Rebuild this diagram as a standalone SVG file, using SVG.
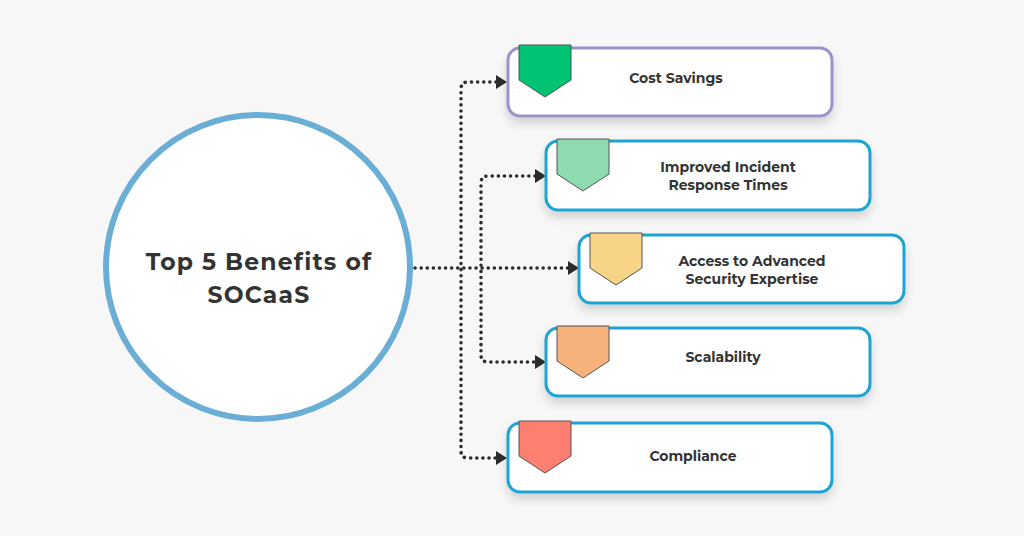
<svg xmlns="http://www.w3.org/2000/svg" width="1024" height="536" viewBox="0 0 1024 536">
<defs>
<filter id="sh" x="-10%" y="-20%" width="120%" height="160%"><feDropShadow dx="0" dy="6" stdDeviation="5" flood-color="#000" flood-opacity="0.15"/></filter>
</defs>
<style>
.box{fill:#fff;stroke:#1ea4d2;stroke-width:3;filter:url(#sh)}
.lbl{font-family:Montserrat,"Open Sans","Liberation Sans",sans-serif;font-weight:bold;font-size:14px;fill:#333;text-anchor:middle}
.con{fill:none;stroke:#2b2b2b;stroke-width:3.5;stroke-dasharray:0.1 6;stroke-linecap:round}
.bd{stroke:#555;stroke-width:1}
</style>
<rect width="1024" height="536" fill="#f7f7f7"/>
<g id="center">
<circle cx="258" cy="267" r="152" fill="#fff" stroke="#6aaed6" stroke-width="6"/>
<text class="lbl" x="259" y="270" style="font-size:23.5px;letter-spacing:1.2px">Top 5 Benefits of</text>
<text class="lbl" x="259" y="303" style="font-size:23.5px;letter-spacing:1.2px">SOCaaS</text>
</g>
<g id="connectors">
<path class="con" d="M415,268H568"/>
<path class="con" d="M496,82H468Q461,82 461,89V451Q461,458 468,458H496"/>
<path class="con" d="M535,176H488Q481,176 481,183V355Q481,362 488,362H535"/>
<path d="M496,75L507,82L496,89z M535,169L546,176L535,183z M568,261L579,268L568,275z M535,355L546,362L535,369z M496,451L507,458L496,465z" fill="#2b2b2b"/>
</g>
<g id="n1"><rect class="box" x="508" y="48" width="324" height="68" rx="12" style="stroke:#9b93c9"/><path class="bd" d="M519,45H571V80L545,97L519,80z" fill="#00c373"/><text class="lbl" x="676" y="83">Cost Savings</text></g>
<g id="n2"><rect class="box" x="546" y="141" width="324" height="69" rx="12"/><path class="bd" d="M557,139H609V174L583,191L557,174z" fill="#8ddbaf"/><text class="lbl" x="728" y="172">Improved Incident</text><text class="lbl" x="728" y="190">Response Times</text></g>
<g id="n3"><rect class="box" x="579" y="235" width="325" height="68" rx="12"/><path class="bd" d="M590,233H642V268L616,285L590,268z" fill="#f7d487"/><text class="lbl" x="752" y="266">Access to Advanced</text><text class="lbl" x="752" y="284">Security Expertise</text></g>
<g id="n4"><rect class="box" x="546" y="328" width="324" height="68" rx="12"/><path class="bd" d="M557,326H609V361L583,378L557,361z" fill="#f6b27a"/><text class="lbl" x="723" y="362">Scalability</text></g>
<g id="n5"><rect class="box" x="508" y="423" width="324" height="69" rx="12"/><path class="bd" d="M519,421H571V456L545,473L519,456z" fill="#fd7f72"/><text class="lbl" x="693" y="461">Compliance</text></g>
</svg>
